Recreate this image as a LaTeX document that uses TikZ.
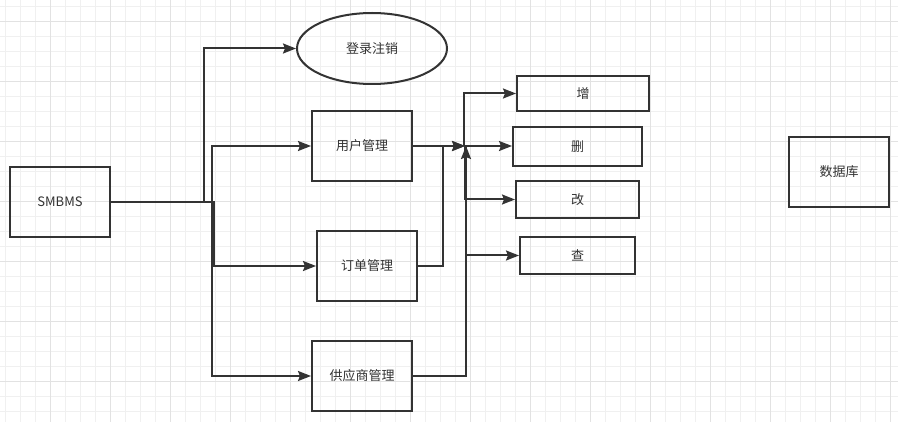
\documentclass[tikz,border=0pt]{standalone}
\usepackage{fontspec}
\setmainfont{Noto Sans CJK SC}
\usetikzlibrary{arrows.meta,shapes.geometric}
\definecolor{ln}{HTML}{333333}
\definecolor{gmin}{HTML}{F0F0F0}
\definecolor{gmaj}{HTML}{E2E2E2}
\begin{document}
\begin{tikzpicture}[x=1pt,y=-1pt,
  box/.style={draw=ln,line width=2pt,inner sep=0pt,text=ln,font=\fontsize{13}{15}\selectfont},
  oval/.style={box,ellipse},
  arr/.style={draw=ln,line width=2pt,-{Stealth[length=13pt,width=10pt,inset=2pt]}},
  gridmin/.style={draw=gmin,line width=1pt},
  gridmaj/.style={draw=gmaj,line width=1pt}]
\useasboundingbox (0,0) rectangle (898,422);
\fill[white] (0,0) rectangle (898,422);
% grid
\foreach \x in {5.7,20.7,...,898} \draw[gridmin] (\x,0) -- (\x,422);
\foreach \y in {6.7,21.7,...,422} \draw[gridmin] (0,\y) -- (898,\y);
\foreach \x in {50.7,110.7,...,898} \draw[gridmaj] (\x,0) -- (\x,422);
\foreach \y in {21.7,81.7,...,422} \draw[gridmaj] (0,\y) -- (898,\y);
% nodes
\node[box,minimum width=100pt,minimum height=70pt] (smbms) at (60,201.7) {SMBMS};
\node[oval,minimum width=150pt,minimum height=71pt] (login) at (372,48.5) {登录注销};
\node[box,minimum width=100pt,minimum height=70pt] (user) at (362,146) {用户管理};
\node[box,minimum width=100pt,minimum height=70pt] (order) at (367,266) {订单管理};
\node[box,minimum width=100pt,minimum height=70pt] (supp) at (362,376) {供应商管理};
\node[box,minimum width=132pt,minimum height=35pt] (add) at (583,93.5) {增};
\node[box,minimum width=129pt,minimum height=39pt] (del) at (577.5,146.5) {删};
\node[box,minimum width=123pt,minimum height=37pt] (mod) at (577.5,199.5) {改};
\node[box,minimum width=115pt,minimum height=37pt] (qry) at (577.5,255.5) {查};
\node[box,minimum width=100pt,minimum height=70pt] (db) at (839,172) {数据库};
\coordinate (j) at (465,146);
% connectors from SMBMS
\draw[arr] (smbms.east) -- ++(93,0) |- (login.west);
\draw[arr] (smbms.east) -- ++(101,0) |- (user.west);
\draw[arr] (smbms.east) -- ++(103,0) |- (order.west);
\draw[arr] (smbms.east) -- ++(101,0) |- (supp.west);
% connectors to junction
\draw[arr] (user.east) -- (j);
\draw[arr] (order.east) -- ++(25,0) |- (j);
\draw[arr] (supp.east) -| ([xshift=1pt]j);
% connectors from junction
\draw[arr] ([xshift=-1pt]j) |- (add.west);
\draw[arr] (j) -- (j -| del.west);
\draw[arr] (j) |- (mod.west);
\draw[arr] ([xshift=1pt]j) |- (qry.west);
\end{tikzpicture}
\end{document}
